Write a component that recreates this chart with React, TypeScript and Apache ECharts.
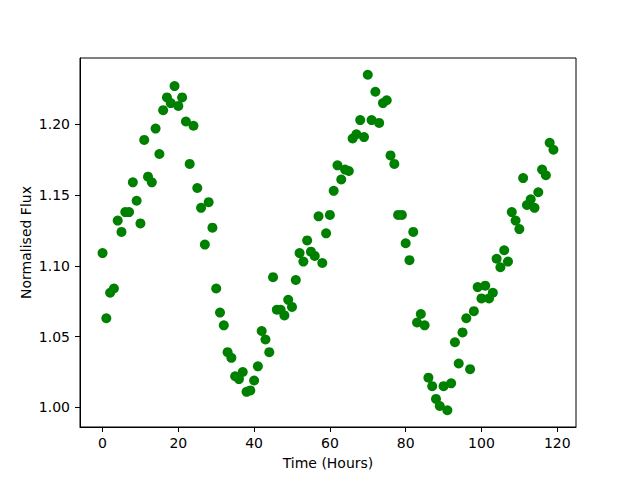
import React, { useEffect, useRef } from "react";
import * as echarts from "echarts";

const hours: number[] = Array.from({ length: 120 }, (_, i) => i);
const flux: number[] = [
  1.109, 1.063, 1.081, 1.084, 1.132, 1.124, 1.138, 1.138, 1.159, 1.146,
  1.130, 1.189, 1.163, 1.159, 1.197, 1.179, 1.210, 1.219, 1.215, 1.227,
  1.213, 1.219, 1.202, 1.172, 1.199, 1.155, 1.141, 1.115, 1.145, 1.127,
  1.084, 1.067, 1.058, 1.039, 1.035, 1.022, 1.020, 1.025, 1.011, 1.012,
  1.019, 1.029, 1.054, 1.048, 1.039, 1.092, 1.069, 1.069, 1.065, 1.076,
  1.071, 1.090, 1.109, 1.103, 1.118, 1.110, 1.107, 1.135, 1.102, 1.123,
  1.136, 1.153, 1.171, 1.161, 1.168, 1.167, 1.190, 1.193, 1.203, 1.191,
  1.235, 1.203, 1.223, 1.201, 1.215, 1.217, 1.178, 1.172, 1.136, 1.136,
  1.116, 1.104, 1.124, 1.060, 1.066, 1.058, 1.021, 1.015, 1.006, 1.001,
  1.015, 0.998, 1.017, 1.046, 1.031, 1.053, 1.063, 1.027, 1.068, 1.085,
  1.077, 1.086, 1.077, 1.081, 1.105, 1.099, 1.111, 1.103, 1.138, 1.132,
  1.126, 1.162, 1.143, 1.147, 1.141, 1.152, 1.168, 1.164, 1.187, 1.182,
];
const xTicks: number[] = [0, 20, 40, 60, 80, 100, 120];
const yTicks: number[] = [1.0, 1.05, 1.1, 1.15, 1.2];

export default function App() {
  const ref = useRef<HTMLDivElement>(null);
  useEffect(() => {
    if (!ref.current) return;
    const chart = echarts.init(ref.current, null, { renderer: "svg" });
    const font = "DejaVu Sans";
    const xMin = Math.min(...hours), xMax = Math.max(...hours);
    const yMin = Math.min(...flux), yMax = Math.max(...flux);
    const xPad = (xMax - xMin) * 0.05;
    const yPad = (yMax - yMin) * 0.05;
    chart.setOption({
      animation: false,
      backgroundColor: "#ffffff",
      grid: {
        left: 80,
        right: 64,
        top: 58,
        bottom: 53,
        show: true,
        borderColor: "#000",
        borderWidth: 1,
        backgroundColor: "transparent",
      },
      xAxis: {
        type: "value",
        min: xMin - xPad,
        max: xMax + xPad,
        name: "Time (Hours)",
        nameLocation: "middle",
        nameGap: 29,
        nameMoveOverlap: false,
        nameTextStyle: { color: "#000", fontFamily: font, fontSize: 14 },
        splitLine: { show: false },
        axisLine: { show: true, onZero: false, lineStyle: { color: "#000", width: 1 } },
        axisTick: {
          show: true,
          inside: false,
          length: 5,
          customValues: xTicks,
          lineStyle: { color: "#000", width: 1 },
        },
        axisLabel: {
          show: true,
          customValues: xTicks,
          margin: 9,
          color: "#000",
          fontFamily: font,
          fontSize: 14,
          formatter: (v: number) => String(Math.round(v)),
        },
      },
      yAxis: {
        type: "value",
        min: yMin - yPad,
        max: yMax + yPad,
        name: "Normalised Flux",
        nameLocation: "middle",
        nameGap: 47,
        nameMoveOverlap: false,
        nameTextStyle: { color: "#000", fontFamily: font, fontSize: 14 },
        splitLine: { show: false },
        axisLine: { show: true, onZero: false, lineStyle: { color: "#000", width: 1 } },
        axisTick: {
          show: true,
          inside: false,
          length: 5,
          customValues: yTicks,
          lineStyle: { color: "#000", width: 1 },
        },
        axisLabel: {
          show: true,
          customValues: yTicks,
          margin: 10,
          color: "#000",
          fontFamily: font,
          fontSize: 14,
          formatter: (v: number) => v.toFixed(2),
        },
      },
      series: [
        {
          type: "scatter",
          data: hours.map((h, i) => [h, flux[i]]),
          symbol: "circle",
          symbolSize: 10,
          itemStyle: { color: "#008000", opacity: 1 },
        },
      ],
    });
    return () => chart.dispose();
  }, []);
  return (
    <div
      ref={ref}
      style={{ position: "fixed", left: 0, top: 0, width: 640, height: 480, background: "#fff" }}
    />
  );
}
